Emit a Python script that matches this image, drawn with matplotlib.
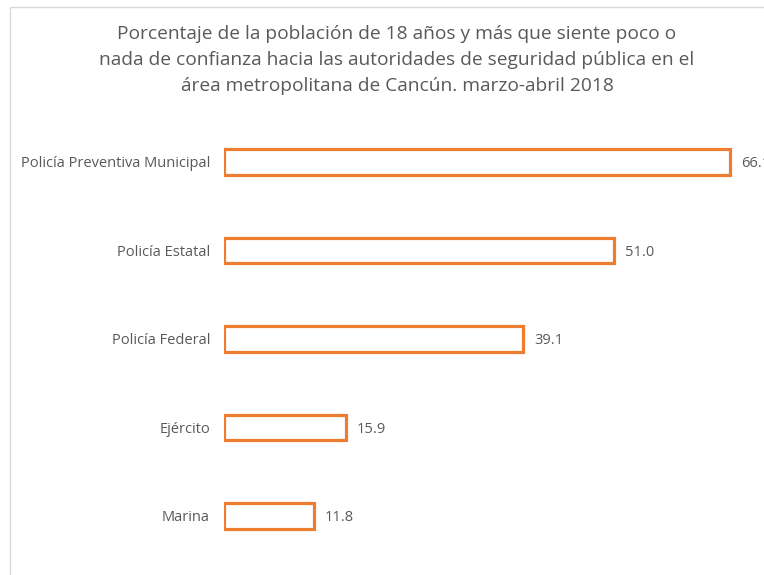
import matplotlib.pyplot as plt
import matplotlib.patches as patches

# Data
categories = ['Policía Preventiva Municipal', 'Policía Estatal', 'Policía Federal',
              'Ejército', 'Marina']
values = [66.1, 51.0, 39.1, 15.9, 11.8]

title = ('Porcentaje de la población de 18 años y más que siente poco o\n'
         'nada de confianza hacia las autoridades de seguridad pública en el\n'
         'área metropolitana de Cancún. marzo-abril 2018')

orange = '#ED7D31'
gray = '#595959'

plt.rcParams['font.family'] = ['Open Sans', 'DejaVu Sans']

fig = plt.figure(figsize=(7.64, 5.75), dpi=100)

# Chart area frame (light gray), extends past right/bottom edges
frame = patches.Rectangle((10 / 764, -0.1), 1.2, (575 - 7) / 575 + 0.1,
                          transform=fig.transFigure, facecolor='none',
                          edgecolor='#d9d9d9', linewidth=1.0)
fig.add_artist(frame)

ax = fig.add_axes([224 / 764, 0.02565, 535.9 / 764, 0.7696])
ypos = list(range(len(categories)))
bars = ax.barh(ypos, values, height=0.29, facecolor='white',
               edgecolor=orange, linewidth=2.3)
ax.set_xlim(0, 70)
ax.set_ylim(4.5, -0.5)

for y, v in zip(ypos, values):
    ax.text(v + 1.4, y + 0.02, f'{v:.1f}', va='center', ha='left',
            fontsize=10.5, color=gray, clip_on=False)

ax.set_yticks(ypos)
ax.set_yticklabels(categories, fontsize=10.5, color=gray)
ax.tick_params(axis='y', length=0, pad=10)
ax.set_xticks([])
for s in ax.spines.values():
    s.set_visible(False)

fig.text(397 / 764, 1 - 60 / 575, title, ha='center', va='center',
         fontsize=13.8, color=gray, linespacing=1.55)

fig.savefig('out.png', dpi=100)
